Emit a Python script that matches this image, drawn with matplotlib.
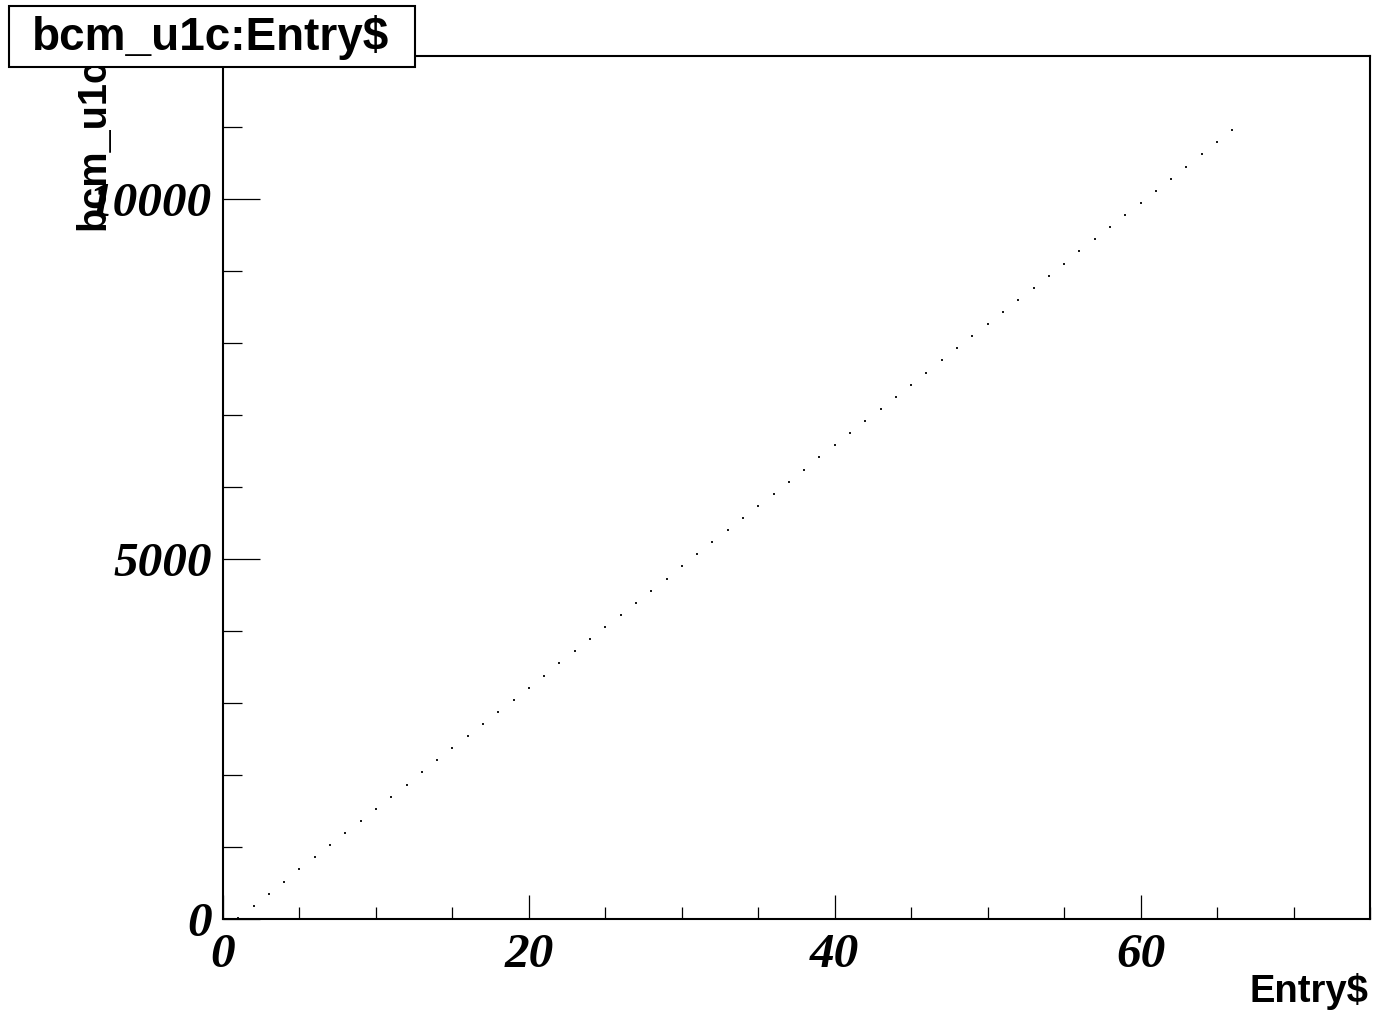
import matplotlib
matplotlib.use("Agg")
import matplotlib.pyplot as plt
from matplotlib.patches import Rectangle
from matplotlib.ticker import MultipleLocator

# ---- data ----
entry = list(range(1, 67))
bcm_u1c = [15, 183, 352, 520, 688, 857, 1025, 1193, 1361, 1530,
           1698, 1866, 2035, 2203, 2371, 2540, 2708, 2876, 3044, 3213,
           3381, 3549, 3718, 3886, 4054, 4223, 4391, 4559, 4727, 4896,
           5064, 5232, 5401, 5569, 5737, 5906, 6074, 6242, 6410, 6579,
           6747, 6915, 7084, 7252, 7420, 7589, 7757, 7925, 8093, 8262,
           8430, 8598, 8767, 8935, 9103, 9272, 9440, 9608, 9776, 9945,
           10113, 10281, 10450, 10618, 10786, 10955]
x_ticks = [0, 20, 40, 60]
y_ticks = [0, 5000, 10000]
title = "bcm_u1c:Entry$"
xlabel = "Entry$"
ylabel = "bcm_u1c"

W, H = 1378, 1014
fig = plt.figure(figsize=(W / 100, H / 100), dpi=100)
fig.patch.set_facecolor("white")

ax = fig.add_axes([223 / W, 1 - 919 / H, (1370 - 223) / W, (919 - 56) / H])
ax.plot(entry, bcm_u1c, linestyle="none", marker="s", markersize=1.7,
        markeredgewidth=0, color="#1a1a1a")
ax.set_xlim(0, 75)
ax.set_ylim(0, 11986)

for s in ax.spines.values():
    s.set_linewidth(1.5)
    s.set_color("black")

ax.set_xticks(x_ticks)
ax.set_yticks(y_ticks)
ax.xaxis.set_minor_locator(MultipleLocator(5))
ax.yaxis.set_minor_locator(MultipleLocator(1000))
ax.tick_params(axis="x", which="major", direction="in", length=17.3, width=0.9,
               pad=10, top=False)
ax.tick_params(axis="x", which="minor", direction="in", length=8.6, width=0.9, top=False)
ax.tick_params(axis="y", which="major", direction="in", length=26.6, width=0.9,
               pad=8, right=False)
ax.tick_params(axis="y", which="minor", direction="in", length=13.7, width=0.9, right=False)

tick_font = dict(family="Liberation Serif", weight="bold", style="italic", size=35.5)
ax.set_xticklabels([str(v) for v in x_ticks], fontdict=tick_font)
ax.set_yticklabels([str(v) for v in y_ticks], fontdict=tick_font)

# axis titles
fig.text(1368 / W, 1 - 1002 / H, xlabel, ha="right", va="baseline",
         family="Liberation Sans", weight="bold", size=27.5)
fig.text(112 / W, 1 - 230 / H, ylabel, ha="right", va="bottom", rotation=90,
         family="Liberation Sans", weight="bold", size=28.5, zorder=1)

# title box
fig.patches.append(Rectangle((9 / W, 1 - 67 / H), (415 - 9) / W, (67 - 6) / H,
                             transform=fig.transFigure, facecolor="white",
                             edgecolor="black", linewidth=1.5, zorder=5))
fig.text(211 / W, 1 - 50 / H, title, ha="center", va="baseline",
         family="Liberation Sans", weight="bold", size=33, zorder=6)

fig.savefig("out.png", dpi=100, facecolor="white")
